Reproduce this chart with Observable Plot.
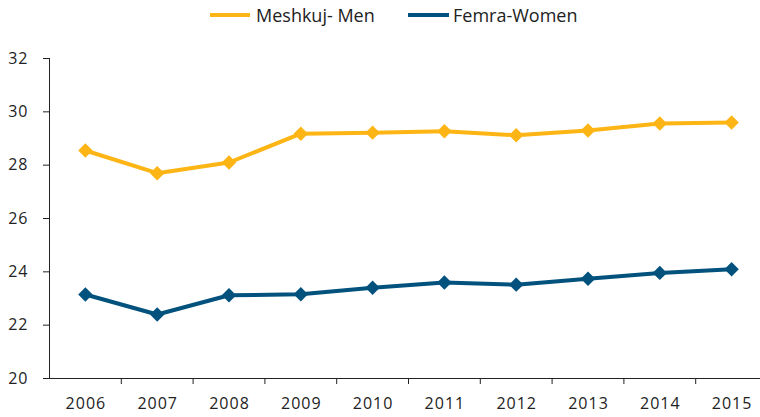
<!DOCTYPE html>
<html><head><meta charset="utf-8">
<script src="https://cdn.jsdelivr.net/npm/d3@7"></script>
<script src="https://cdn.jsdelivr.net/npm/@observablehq/plot@0.6"></script>
<style>
body{margin:0;background:#fff;font-family:"Open Sans",sans-serif;}
#legend{height:35px;position:relative;font-family:"Open Sans",sans-serif;font-size:18px;color:#222;}
.sw{position:absolute;top:13px;height:4px;}
.lt{position:absolute;top:0;line-height:30px;white-space:nowrap;}
svg{display:block;overflow:hidden;}
</style></head><body>
<div id="legend"></div>
<div id="chart"></div>
<script>
const years = [2006,2007,2008,2009,2010,2011,2012,2013,2014,2015];
const men = [28.55,27.7,28.1,29.18,29.22,29.27,29.12,29.3,29.56,29.6];
const women = [23.15,22.4,23.12,23.16,23.4,23.6,23.52,23.74,23.96,24.1];
const seriesNames = ["Meshkuj- Men","Femra-Women"];
const colors = ["#FDB515","#02527D"];
const yTicks = [20,22,24,26,28,30,32];

const data = [];
years.forEach((y,i)=>{data.push({year:y,value:men[i],s:seriesNames[0]});});
years.forEach((y,i)=>{data.push({year:y,value:women[i],s:seriesNames[1]});});

// legend
const lg = document.getElementById("legend");
const pos = [[210,40,256],[408,41,453]];
seriesNames.forEach((n,i)=>{
  const sw = document.createElement("span");
  sw.className="sw"; sw.style.left=pos[i][0]+"px"; sw.style.width=pos[i][1]+"px"; sw.style.background=colors[i];
  const t = document.createElement("span");
  t.className="lt"; t.style.left=pos[i][2]+"px"; t.textContent=n;
  lg.appendChild(sw); lg.appendChild(t);
});

const bounds = years.slice(0,-1).map(y=>y+0.5);
const chart = Plot.plot({
  width:760, height:382,
  marginTop:23, marginBottom:39, marginLeft:49, marginRight:0,
  x:{domain:[2005.5,2015.5], range:[49,767]},
  y:{domain:[20,32]},
  color:{domain:seriesNames, range:colors},
  style:{fontFamily:"Open Sans, sans-serif", fontSize:"16px", color:"#222", letterSpacing:"1px"},
  marks:[
    Plot.ruleY([20],{stroke:"#222",strokeWidth:1}),
    Plot.ruleX([2005.5],{stroke:"#222",strokeWidth:1}),
    Plot.axisY({ticks:yTicks, tickSize:6, tickPadding:15, label:null, tickFormat:d=>d, stroke:"#222"}),
    Plot.axisX({ticks:bounds, tickSize:6, tickFormat:()=>"", label:null, stroke:"#222"}),
    Plot.axisX({ticks:years, tickSize:0, tickPadding:19, tickFormat:d=>String(d), label:null, dx:0.5}),
    Plot.line(data,{x:"year",y:"value",z:"s",stroke:"s",strokeWidth:4}),
    Plot.dot(data,{x:"year",y:"value",fill:"s",symbol:"diamond2",r:6.5,stroke:"none"})
  ]
});
document.getElementById("chart").appendChild(chart);
</script>
</body></html>
